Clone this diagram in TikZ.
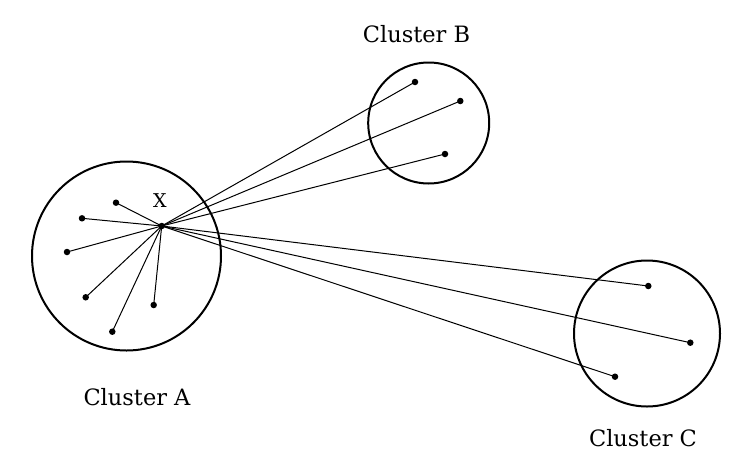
\documentclass[tikz,border=0pt]{standalone}
\usepackage{fontspec}
\setmainfont{DejaVu Serif}
\begin{document}
\begin{tikzpicture}[x=1pt,y=-1pt,
  cluster/.style={draw,circle,line width=2pt,inner sep=0pt},
  pt/.style={circle,fill,inner sep=0pt,minimum size=6.5pt},
  link/.style={line width=1pt},
  lbl/.style={font=\fontsize{22.5}{26}\selectfont},
]
\useasboundingbox (0,0) rectangle (746,474);
% clusters
\node[cluster,minimum size=189pt] (A) at (126.5,256) {};
\node[cluster,minimum size=121pt] (B) at (428.7,123) {};
\node[cluster,minimum size=146pt] (C) at (647,333.5) {};
% labels
\node[lbl] (la) at (137,397) {Cluster A};
\node[lbl] (lb) at (416.5,34) {Cluster B};
\node[lbl] (lc) at (643,438) {Cluster C};
\node[font=\fontsize{19}{22}\selectfont] (lx) at (160,201) {X};
% points
\node[pt] (x) at (161.7,226) {};
\node[pt] (a1) at (116,202.7) {};
\node[pt] (a2) at (82,218.3) {};
\node[pt] (a3) at (67,252) {};
\node[pt] (a4) at (85.7,297.3) {};
\node[pt] (a5) at (112.3,331.7) {};
\node[pt] (a6) at (153.7,305) {};
\node[pt] (b1) at (415,82) {};
\node[pt] (b2) at (460.3,101) {};
\node[pt] (b3) at (445,154) {};
\node[pt] (c1) at (648.3,286) {};
\node[pt] (c2) at (690.3,342.7) {};
\node[pt] (c3) at (615,376.7) {};
% links
\foreach \p in {a1,a2,a3,a4,a5,a6,b1,b2,b3,c1,c2,c3}
  \draw[link] (x.center) -- (\p.center);
\end{tikzpicture}
\end{document}
